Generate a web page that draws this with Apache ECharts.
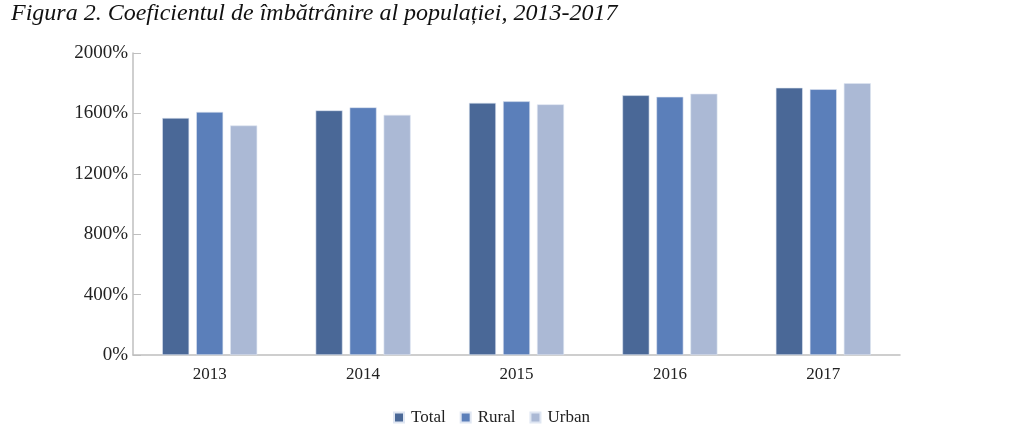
<!DOCTYPE html>
<html>
<head>
<meta charset="utf-8">
<script src="https://cdn.jsdelivr.net/npm/echarts@6/dist/echarts.min.js"></script>
<style>
html, body { margin: 0; padding: 0; background: #fff; }
#ct1 { width: 1010px; height: 436px; }
</style>
</head>
<body>
<div id="ct1"></div>
<script>
var years = ['2013', '2014', '2015', '2016', '2017'];
var totalData = [1570, 1620, 1670, 1720, 1770];
var ruralData = [1610, 1640, 1680, 1710, 1760];
var urbanData = [1520, 1590, 1660, 1730, 1800];
var yTicks = [0, 400, 800, 1200, 1600, 2000];

var serif = '"Liberation Serif", "DejaVu Serif", serif';

function barSeries(name, data, color) {
	return {
		name: name,
		type: 'bar',
		data: data,
		barWidth: 27,
		barGap: '26%',
		itemStyle: { color: color, borderColor: '#dfe6f2', borderWidth: 0.6 }
	};
}

var option1 = {
	animation: false,
	title: {
		text: 'Figura 2. Coeficientul de îmbătrânire al populației, 2013-2017',
		left: 6,
		top: -3,
		textStyle: { fontFamily: serif, fontStyle: 'italic', fontWeight: 'normal', fontSize: 24, color: '#111' }
	},
	legend: {
		bottom: 5,
		left: 388,
		itemWidth: 10,
		itemHeight: 10,
		itemGap: 14,
		icon: 'rect',
		textStyle: { fontFamily: serif, fontSize: 17, color: '#222', padding: [0, 0, 0, 2] },
		data: ['Total', 'Rural', 'Urban']
	},
	grid: { left: 133, right: 110, top: 53, bottom: 81 },
	xAxis: {
		type: 'category',
		data: years,
		axisLine: { lineStyle: { color: '#bfbfbf', width: 1.5 } },
		axisTick: { show: false },
		axisLabel: { fontFamily: serif, fontSize: 17, color: '#222', margin: 11 }
	},
	yAxis: {
		type: 'value',
		min: yTicks[0],
		max: yTicks[yTicks.length - 1],
		interval: 400,
		axisLine: { show: true, lineStyle: { color: '#bfbfbf', width: 1.5 } },
		axisTick: { show: true, inside: true, length: 8, lineStyle: { color: '#bfbfbf' } },
		splitLine: { show: false },
		axisLabel: {
			fontFamily: serif, fontSize: 19, color: '#222', margin: 5,
			formatter: function (v) { return v + '%'; }
		}
	},
	series: [
		barSeries('Total', totalData, '#4A6897'),
		barSeries('Rural', ruralData, '#5B7FBA'),
		barSeries('Urban', urbanData, '#ABB9D5')
	]
};

var myChart1 = echarts.init(document.getElementById('ct1'));
myChart1.setOption(option1, true);
</script>
</body>
</html>
